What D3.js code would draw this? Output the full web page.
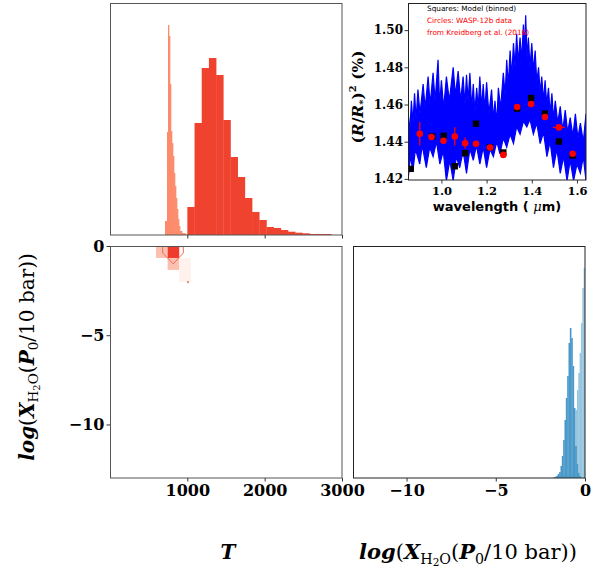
<!DOCTYPE html>
<html><head><meta charset="utf-8">
<script src="https://cdn.jsdelivr.net/npm/d3@7"></script>
<style>body{margin:0;background:#fff}</style>
</head><body><svg id="c" width="599" height="572" xmlns="http://www.w3.org/2000/svg"></svg>
<script>
// ---------------- DATA ----------------
// Top-left: marginal histograms of T
const lightTStart = 711, lightTWidth = 13;
const lightTCounts = [14, 14, 103, 210, 199, 151, 104, 92, 79, 62, 49, 37, 26, 16, 9, 4, 4, 2, 2, 2, 1, 1];
const redTStart = 1000, redTWidth = 93;
const redTCounts = [28, 112, 167, 177, 160, 115, 78, 58, 37, 23, 15, 8, 7, 5, 3.3, 2.3, 1.7, 1, 1, 1];
// Bottom-right: marginal histograms of log X_H2O
const lightLogStart = -1.725, lightLogWidth = 0.075;
const lightLogCounts = [1, 2, 3, 3, 3, 3, 3, 3, 3, 3, 3, 3, 3, 4, 5, 30, 68, 88, 105, 125, 155, 190, 210];
const darkLogStart = -1.75, darkLogWidth = 0.075;
const darkLogCounts = [1, 1, 2, 4, 6, 12, 22, 38, 58, 80, 102, 135, 150, 140, 112, 70, 32, 14, 5, 2];
// Bottom-left: 2D histogram cells and contour
const cellT = [595, 745, 745, 895, 895];
const cellLog = [-0.67, -0.67, -1.34, -1.34, -2.01];
const cellLevel = ["light", "dark", "light", "faint", "faint"];
const cellTWidth = 150, cellLogHeight = 0.67;
const contourT = [681, 681, 818, 948, 948];
const contourLog = [0, -0.39, -1.0, -0.39, 0];
const dotT = [1008], dotLog = [-2.02];
// Inset: spectrum envelope (upper / lower edge of the dense blue model spectrum)
const specUpperW = [0.852,0.860,0.867,0.874,0.881,0.888,0.896,0.905,0.919,0.928,0.941,0.950,0.963,0.972,0.985,0.992,1.000,1.010,1.022,1.035,1.052,1.062,1.074,1.085,1.096,1.104,1.111,1.118,1.126,1.134,1.141,1.148,1.156,1.163,1.170,1.178,1.185,1.192,1.200,1.210,1.222,1.230,1.237,1.245,1.252,1.262,1.274,1.282,1.289,1.296,1.304,1.311,1.319,1.326,1.333,1.340,1.348,1.355,1.363,1.368,1.373,1.379,1.385,1.392,1.400,1.407,1.415,1.422,1.430,1.437,1.444,1.452,1.459,1.466,1.474,1.481,1.489,1.496,1.504,1.515,1.526,1.537,1.548,1.559,1.570,1.582,1.593,1.604,1.615,1.628,1.640];
const specUpperV = [1.457,1.445,1.462,1.450,1.466,1.452,1.468,1.455,1.471,1.458,1.475,1.460,1.477,1.462,1.484,1.460,1.473,1.458,1.475,1.462,1.480,1.465,1.478,1.462,1.475,1.460,1.476,1.462,1.477,1.458,1.471,1.456,1.469,1.458,1.475,1.458,1.471,1.457,1.472,1.455,1.468,1.452,1.462,1.450,1.469,1.458,1.477,1.465,1.484,1.470,1.489,1.475,1.493,1.480,1.498,1.482,1.496,1.484,1.503,1.488,1.508,1.485,1.496,1.480,1.493,1.478,1.489,1.472,1.480,1.466,1.475,1.462,1.473,1.460,1.469,1.455,1.466,1.452,1.462,1.450,1.459,1.446,1.457,1.445,1.453,1.443,1.455,1.442,1.450,1.440,1.455];
const specLowerW = [0.852,0.862,0.874,0.885,0.904,0.915,0.933,0.948,0.963,0.978,0.993,1.008,1.022,1.037,1.052,1.066,1.081,1.096,1.111,1.126,1.141,1.155,1.170,1.185,1.200,1.215,1.230,1.245,1.259,1.274,1.289,1.304,1.319,1.333,1.348,1.363,1.378,1.392,1.407,1.422,1.437,1.452,1.467,1.481,1.496,1.511,1.526,1.541,1.556,1.570,1.585,1.600,1.615,1.628,1.640];
const specLowerV = [1.419,1.432,1.4245,1.436,1.428,1.438,1.426,1.437,1.432,1.440,1.428,1.435,1.419,1.430,1.419,1.432,1.426,1.435,1.423,1.436,1.430,1.438,1.428,1.437,1.426,1.436,1.432,1.440,1.4335,1.442,1.437,1.444,1.439,1.448,1.444,1.451,1.448,1.452,1.444,1.450,1.439,1.445,1.432,1.440,1.426,1.436,1.423,1.432,1.419,1.430,1.419,1.428,1.423,1.432,1.419];
// Inset: binned model (squares) and WASP-12b data (circles)
const modelW = [0.864, 0.959, 1.010, 1.059, 1.105, 1.153, 1.215, 1.274, 1.335, 1.397, 1.458, 1.520, 1.581];
const modelV = [1.4254, 1.4428, 1.4432, 1.4268, 1.4338, 1.4497, 1.4369, 1.4342, 1.4578, 1.4635, 1.4551, 1.4401, 1.4326];
const dataW = [0.904, 0.956, 1.009, 1.059, 1.105, 1.153, 1.215, 1.274, 1.335, 1.397, 1.458, 1.520, 1.581];
const dataV = [1.4443, 1.4425, 1.4405, 1.4428, 1.4392, 1.4389, 1.4369, 1.4329, 1.4587, 1.4603, 1.4533, 1.4477, 1.4335];
const dataErr = [0.0063, 0.0015, 0.0015, 0.005, 0.003, 0.0015, 0.0015, 0.0015, 0.0015, 0.0015, 0.0015, 0.0015, 0.0015];
const dataXErr = [0, 0, 0, 0, 0, 0, 0, 0, 0, 0, 0, 0.026, 0];
// Ticks
const tTicks = [1000, 2000, 3000];
const logTicks = [-10, -5, 0];
const waveTicks = [1.0, 1.2, 1.4, 1.6];
const depthTicks = [1.42, 1.44, 1.46, 1.48, 1.50];

// ---------------- DRAW ----------------
const svg = d3.select("#c");
const SERIF = "DejaVu Serif";
const C = {red: "#f0432f", salmon: "#fc8b6b", dark: "#4b99c9", lightB: "#97c6e0",
  cellDark: "#ef3b2c", cellLight: "#fcc0b0", cellFaint: "#fff1ec"};

const xT = d3.scaleLinear().domain([0, 3000]).range([110, 342]);
const yTop = d3.scaleLinear().domain([0, 232]).range([235, 3]);
const yLog = d3.scaleLinear().domain([-13, 0]).range([478, 246]);
const xLog = d3.scaleLinear().domain([-13, 0]).range([353, 585]);
const yBR = d3.scaleLinear().domain([0, 232]).range([478, 246]);
const xW = d3.scaleLinear().domain([0.852, 1.64]).range([408, 586]);
const yV = d3.scaleLinear().domain([1.4194, 1.5146]).range([180, 3]);

const defs = svg.append("defs");
function clip(id, x, y, w, h) {
  defs.append("clipPath").attr("id", id).append("rect").attr("x", x).attr("y", y).attr("width", w).attr("height", h);
  return "url(#" + id + ")";
}

// --- Top-left histograms
const gTL = svg.append("g").attr("clip-path", clip("ctl", 110, 3, 232, 232));
function vHist(g, start, width, counts, color, xs, ys) {
  g.selectAll(null).data(counts).enter().append("rect")
    .attr("x", (d, i) => xs(start + i * width))
    .attr("width", (d, i) => xs(start + (i + 1) * width) - xs(start + i * width) + 0.3)
    .attr("y", d => ys(d)).attr("height", d => ys(0) - ys(d))
    .attr("fill", color);
}
vHist(gTL, lightTStart, lightTWidth, lightTCounts, C.salmon, xT, yTop);
vHist(gTL, redTStart, redTWidth, redTCounts, C.red, xT, yTop);

// --- Bottom-right histograms (x = log X)
const gBR = svg.append("g").attr("clip-path", clip("cbr", 353, 246, 232, 232));
vHist(gBR, lightLogStart, lightLogWidth, lightLogCounts, C.lightB, xLog, yBR);
vHist(gBR, darkLogStart, darkLogWidth, darkLogCounts, C.dark, xLog, yBR);

// --- Bottom-left 2D
const gBL = svg.append("g").attr("clip-path", clip("cbl", 110, 246, 232, 232));
const lvlColor = {dark: C.cellDark, light: C.cellLight, faint: C.cellFaint};
const cellOrder = d3.range(cellT.length).sort((a, b) => (cellLevel[a] === "dark") - (cellLevel[b] === "dark"));
gBL.selectAll(null).data(cellOrder).enter().append("rect")
  .attr("x", i => xT(cellT[i])).attr("width", i => xT(cellT[i] + cellTWidth) - xT(cellT[i]))
  .attr("y", i => yLog(cellLog[i] + cellLogHeight)).attr("height", i => yLog(cellLog[i]) - yLog(cellLog[i] + cellLogHeight))
  .attr("fill", i => lvlColor[cellLevel[i]]);
gBL.append("path")
  .attr("d", d3.line()(contourT.map((t, i) => [xT(t), yLog(contourLog[i])])))
  .attr("fill", "none").attr("stroke", "#f26a55").attr("stroke-width", 1);
gBL.selectAll(null).data(dotT).enter().append("rect")
  .attr("x", (d, i) => xT(d) - 0.7).attr("y", (d, i) => yLog(dotLog[i]) - 0.7)
  .attr("width", 1.5).attr("height", 1.5).attr("fill", "#e8321f");

// --- Inset
const gIN = svg.append("g").attr("clip-path", clip("cin", 408, 3, 178, 177));
const poly = specUpperW.map((w, i) => [xW(w), yV(specUpperV[i])])
  .concat(specLowerW.map((w, i) => [xW(w), yV(specLowerV[i])]).reverse());
gIN.append("path").attr("d", d3.line()(poly) + "Z")
  .attr("fill", "#0000ff").attr("stroke", "#0000ff").attr("stroke-width", 1.2).attr("stroke-linejoin", "miter");
// error bars
gIN.selectAll(null).data(dataW).enter().append("line")
  .attr("x1", d => xW(d)).attr("x2", d => xW(d))
  .attr("y1", (d, i) => yV(dataV[i] - dataErr[i])).attr("y2", (d, i) => yV(dataV[i] + dataErr[i]))
  .attr("stroke", "#ff0000").attr("stroke-width", 1.3);
gIN.selectAll(null).data(dataW).enter().append("line")
  .attr("x1", (d, i) => xW(d - dataXErr[i])).attr("x2", (d, i) => xW(d + dataXErr[i]))
  .attr("y1", (d, i) => yV(dataV[i])).attr("y2", (d, i) => yV(dataV[i]))
  .attr("stroke", "#ff0000").attr("stroke-width", 1.3);
gIN.selectAll(null).data(modelW).enter().append("rect")
  .attr("x", d => xW(d) - 3.2).attr("y", (d, i) => yV(modelV[i]) - 3.2)
  .attr("width", 6.4).attr("height", 6.4).attr("fill", "#000");
gIN.selectAll(null).data(dataW).enter().append("circle")
  .attr("cx", d => xW(d)).attr("cy", (d, i) => yV(dataV[i])).attr("r", 3.3).attr("fill", "#ff0000");
const noteG = svg.append("g").attr("font-family", "DejaVu Sans").attr("font-size", 7.3);
noteG.append("text").attr("x", 427).attr("y", 11).attr("fill", "#000").text("Squares: Model (binned)");
noteG.append("text").attr("x", 427).attr("y", 23).attr("fill", "#ff0000").text("Circles: WASP-12b data");
noteG.append("text").attr("x", 427).attr("y", 34.5).attr("fill", "#ff0000").text("from Kreidberg et al. (2016)");

// --- Frames
function frame(x, y, w, h, col) {
  svg.append("rect").attr("x", x).attr("y", y).attr("width", w).attr("height", h)
    .attr("fill", "none").attr("stroke", col).attr("stroke-width", 1);
}
frame(110.5, 3.5, 231.5, 231.5, "#555");
frame(110.5, 246.5, 231.5, 231.5, "#555");
frame(353.5, 246.5, 231.5, 231.5, "#222");
frame(408.5, 3.5, 177.5, 176.5, "#222");

// --- Axes
function styleAxis(g, size) {
  g.select(".domain").remove();
  g.selectAll(".tick line").attr("stroke", "#333");
  g.selectAll(".tick text").attr("font-family", SERIF).attr("font-weight", "bold").attr("font-size", size).attr("fill", "#000");
}
svg.append("g").attr("transform", "translate(0,235)")
  .call(d3.axisBottom(xT).tickValues(tTicks).tickSize(3.5).tickFormat(""))
  .call(g => styleAxis(g, 16));
svg.append("g").attr("transform", "translate(0,478)")
  .call(d3.axisBottom(xT).tickValues(tTicks).tickSize(3.5).tickPadding(3.5).tickFormat(d3.format("d")))
  .call(g => styleAxis(g, 16));
svg.append("g").attr("transform", "translate(110,0)")
  .call(d3.axisLeft(yLog).tickValues(logTicks).tickSize(3.5).tickPadding(2).tickFormat(d3.format("d")))
  .call(g => styleAxis(g, 16));
svg.append("g").attr("transform", "translate(0,478)")
  .call(d3.axisBottom(xLog).tickValues(logTicks).tickSize(3.5).tickPadding(3.5).tickFormat(d3.format("d")))
  .call(g => styleAxis(g, 16));
svg.append("g").attr("transform", "translate(0,180)")
  .call(d3.axisBottom(xW).tickValues(waveTicks).tickSize(3.5).tickPadding(3.5).tickFormat(d3.format(".1f")))
  .call(g => styleAxis(g, 11.5));
svg.append("g").attr("transform", "translate(408,0)")
  .call(d3.axisLeft(yV).tickValues(depthTicks).tickSize(3.5).tickPadding(1.5).tickFormat(d3.format(".2f")))
  .call(g => styleAxis(g, 12));

// --- Axis labels
function logLabel(t, size) {
  t.attr("font-family", SERIF).attr("font-size", size).attr("fill", "#000");
  t.append("tspan").attr("font-style", "italic").attr("font-weight", "bold").text("log");
  t.append("tspan").text("(");
  t.append("tspan").attr("font-style", "italic").attr("font-weight", "bold").text("X");
  t.append("tspan").attr("font-size", size * 0.68).attr("dy", size * 0.22).text("H");
  t.append("tspan").attr("font-size", size * 0.5).attr("dy", size * 0.1).text("2");
  t.append("tspan").attr("font-size", size * 0.68).attr("dy", -size * 0.1).text("O");
  t.append("tspan").attr("dy", -size * 0.22).text("(");
  t.append("tspan").attr("font-style", "italic").attr("font-weight", "bold").text("P");
  t.append("tspan").attr("font-size", size * 0.68).attr("dy", size * 0.22).text("0");
  t.append("tspan").attr("dy", -size * 0.22).text("/10 bar))");
}
logLabel(svg.append("text").attr("x", 468).attr("y", 559).attr("text-anchor", "middle"), 21);
logLabel(svg.append("text").attr("text-anchor", "middle").attr("transform", "translate(34,357) rotate(-90)"), 20);
svg.append("text").attr("x", 228).attr("y", 559).attr("text-anchor", "middle")
  .attr("font-family", SERIF).attr("font-size", 20).attr("font-style", "italic").attr("font-weight", "bold").text("T");

// inset axis labels
const xl = svg.append("text").attr("x", 497).attr("y", 211).attr("text-anchor", "middle")
  .attr("font-family", "DejaVu Sans").attr("font-weight", "bold").attr("font-size", 13);
xl.append("tspan").text("wavelength ( ");
xl.append("tspan").attr("font-family", SERIF).attr("font-style", "italic").attr("font-weight", "normal").text("μ");
xl.append("tspan").text("m)");
const yl = svg.append("text").attr("text-anchor", "middle").attr("transform", "translate(363,97) rotate(-90)")
  .attr("font-family", SERIF).attr("font-weight", "bold").attr("font-size", 15.5);
yl.append("tspan").text("(");
yl.append("tspan").attr("font-style", "italic").text("R");
yl.append("tspan").text("/");
yl.append("tspan").attr("font-style", "italic").text("R");
yl.append("tspan").attr("font-size", 10).attr("dy", 3).text("*");
yl.append("tspan").attr("dy", -3).text(")");
yl.append("tspan").attr("font-size", 10).attr("dy", -7).text("2");
yl.append("tspan").attr("dy", 7).text(" (%)");
</script></body></html>
